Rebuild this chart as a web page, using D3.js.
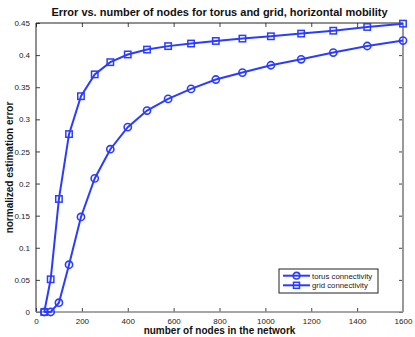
<!DOCTYPE html>
<html>
<head>
<meta charset="utf-8">
<script src="https://cdn.jsdelivr.net/npm/d3@7"></script>
<style>
  body { margin: 0; background: #fff; }
  svg { display: block; font-family: "Liberation Sans", Arial, sans-serif; }
</style>
</head>
<body>
<svg id="svg" width="415" height="337"></svg>
<script>
// data
const nodes = [36, 64, 100, 144, 196, 256, 324, 400, 484, 576, 676, 784, 900, 1024, 1156, 1296, 1444, 1600];
const torus = [0, 0, 0.0145, 0.0736, 0.148, 0.208, 0.2535, 0.2878, 0.3137, 0.3318, 0.3474, 0.362, 0.3728, 0.3842, 0.3935, 0.404, 0.4142, 0.4226];
const grid = [0, 0.0509, 0.176, 0.277, 0.336, 0.370, 0.389, 0.401, 0.4086, 0.414, 0.418, 0.422, 0.4257, 0.4293, 0.4335, 0.438, 0.4438, 0.449];
const xTicks = [0, 200, 400, 600, 800, 1000, 1200, 1400, 1600];
const yTicks = [0, 0.05, 0.1, 0.15, 0.2, 0.25, 0.3, 0.35, 0.4, 0.45];
const seriesNames = ["torus connectivity", "grid connectivity"];

const dims = { width: 415, height: 337 };
const margins = { left: 36, right: 12, top: 23, bottom: 25 };
const blue = "#2b3cff";

const xScale = d3.scaleLinear()
  .domain([0, 1600])
  .range([margins.left, dims.width - margins.right]);
const yScale = d3.scaleLinear()
  .domain([0, 0.45])
  .range([dims.height - margins.bottom, margins.top]);

const svg = d3.select("#svg");
const x0 = xScale(0), x1 = xScale(1600), y0 = yScale(0), y1 = yScale(0.45);

// axes, ticks pointing inward
const fmtY = d => String(+d.toFixed(2));
svg.append("g")
  .attr("transform", `translate(0,${y0})`)
  .call(d3.axisBottom(xScale).tickValues(xTicks).tickSizeInner(-4).tickSizeOuter(0).tickPadding(6).tickFormat(d => String(d)))
  .call(g => g.select(".domain").remove());
svg.append("g")
  .attr("transform", `translate(0,${y1})`)
  .call(d3.axisTop(xScale).tickValues(xTicks).tickSizeInner(-4).tickSizeOuter(0).tickFormat(""))
  .call(g => g.select(".domain").remove());
svg.append("g")
  .attr("transform", `translate(${x0},0)`)
  .call(d3.axisLeft(yScale).tickValues(yTicks).tickSizeInner(-4).tickSizeOuter(0).tickPadding(6).tickFormat(fmtY))
  .call(g => g.select(".domain").remove());
svg.append("g")
  .attr("transform", `translate(${x1},0)`)
  .call(d3.axisRight(yScale).tickValues(yTicks).tickSizeInner(-4).tickSizeOuter(0).tickFormat(""))
  .call(g => g.select(".domain").remove());

svg.selectAll(".tick text").attr("font-size", 8).attr("font-family", "Liberation Sans, Arial, sans-serif").attr("fill", "#222");
svg.selectAll(".tick line").attr("stroke", "#444");

// box
svg.append("line").attr("x1", x0).attr("x2", x1).attr("y1", y1).attr("y2", y1).attr("stroke", "#222");
svg.append("line").attr("x1", x0).attr("x2", x0).attr("y1", y1).attr("y2", y0).attr("stroke", "#222");
svg.append("line").attr("x1", x0).attr("x2", x1).attr("y1", y0).attr("y2", y0).attr("stroke", "#888").attr("stroke-width", 1.5);
svg.append("line").attr("x1", x1).attr("x2", x1).attr("y1", y1).attr("y2", y0).attr("stroke", "#999").attr("stroke-width", 2);

// lines + markers
const line = d3.line().x((d, i) => xScale(nodes[i])).y(d => yScale(d));
function drawSeries(vals, marker) {
  svg.append("path").datum(vals)
    .attr("d", line).attr("fill", "none").attr("stroke", blue).attr("stroke-width", 2);
  if (marker === "circle") {
    svg.selectAll(null).data(vals).enter().append("circle")
      .attr("cx", (d, i) => xScale(nodes[i])).attr("cy", d => yScale(d))
      .attr("r", 3.6).attr("fill", "none").attr("stroke", blue).attr("stroke-width", 1.6);
  } else {
    svg.selectAll(null).data(vals).enter().append("rect")
      .attr("x", (d, i) => xScale(nodes[i]) - 3.2).attr("y", d => yScale(d) - 3.2)
      .attr("width", 6.4).attr("height", 6.4).attr("fill", "none").attr("stroke", blue).attr("stroke-width", 1.5);
  }
}
drawSeries(torus, "circle");
drawSeries(grid, "square");

// legend
const lg = svg.append("g").attr("transform", "translate(279,269)");
lg.append("rect").attr("width", 99).attr("height", 24).attr("fill", "#fff").attr("stroke", "#222");
seriesNames.forEach((name, i) => {
  const yy = 6.7 + i * 9.6;
  lg.append("line").attr("x1", 4).attr("x2", 31).attr("y1", yy).attr("y2", yy).attr("stroke", blue).attr("stroke-width", 2);
  if (i === 0) {
    lg.append("circle").attr("cx", 17.5).attr("cy", yy).attr("r", 3.3).attr("fill", "none").attr("stroke", blue).attr("stroke-width", 1.6);
  } else {
    lg.append("rect").attr("x", 14.5).attr("y", yy - 3).attr("width", 6).attr("height", 6).attr("fill", "none").attr("stroke", blue).attr("stroke-width", 1.5);
  }
  lg.append("text").attr("x", 33).attr("y", yy + 2.8).attr("font-size", 7.8).attr("fill", "#222").text(name);
});

// titles
svg.append("text").attr("x", (x0 + x1) / 2).attr("y", 16).attr("text-anchor", "middle")
  .attr("font-size", 11).attr("font-weight", "bold").attr("fill", "#111")
  .text("Error vs. number of nodes for torus and grid, horizontal mobility");
svg.append("text").attr("x", (x0 + x1) / 2).attr("y", 333.5).attr("text-anchor", "middle")
  .attr("font-size", 10).attr("font-weight", "bold").attr("fill", "#111")
  .text("number of nodes in the network");
svg.append("text").attr("transform", `translate(13,${(y0 + y1) / 2}) rotate(-90)`).attr("text-anchor", "middle")
  .attr("font-size", 10).attr("font-weight", "bold").attr("fill", "#111")
  .text("normalized estimation error");
</script>
</body>
</html>
